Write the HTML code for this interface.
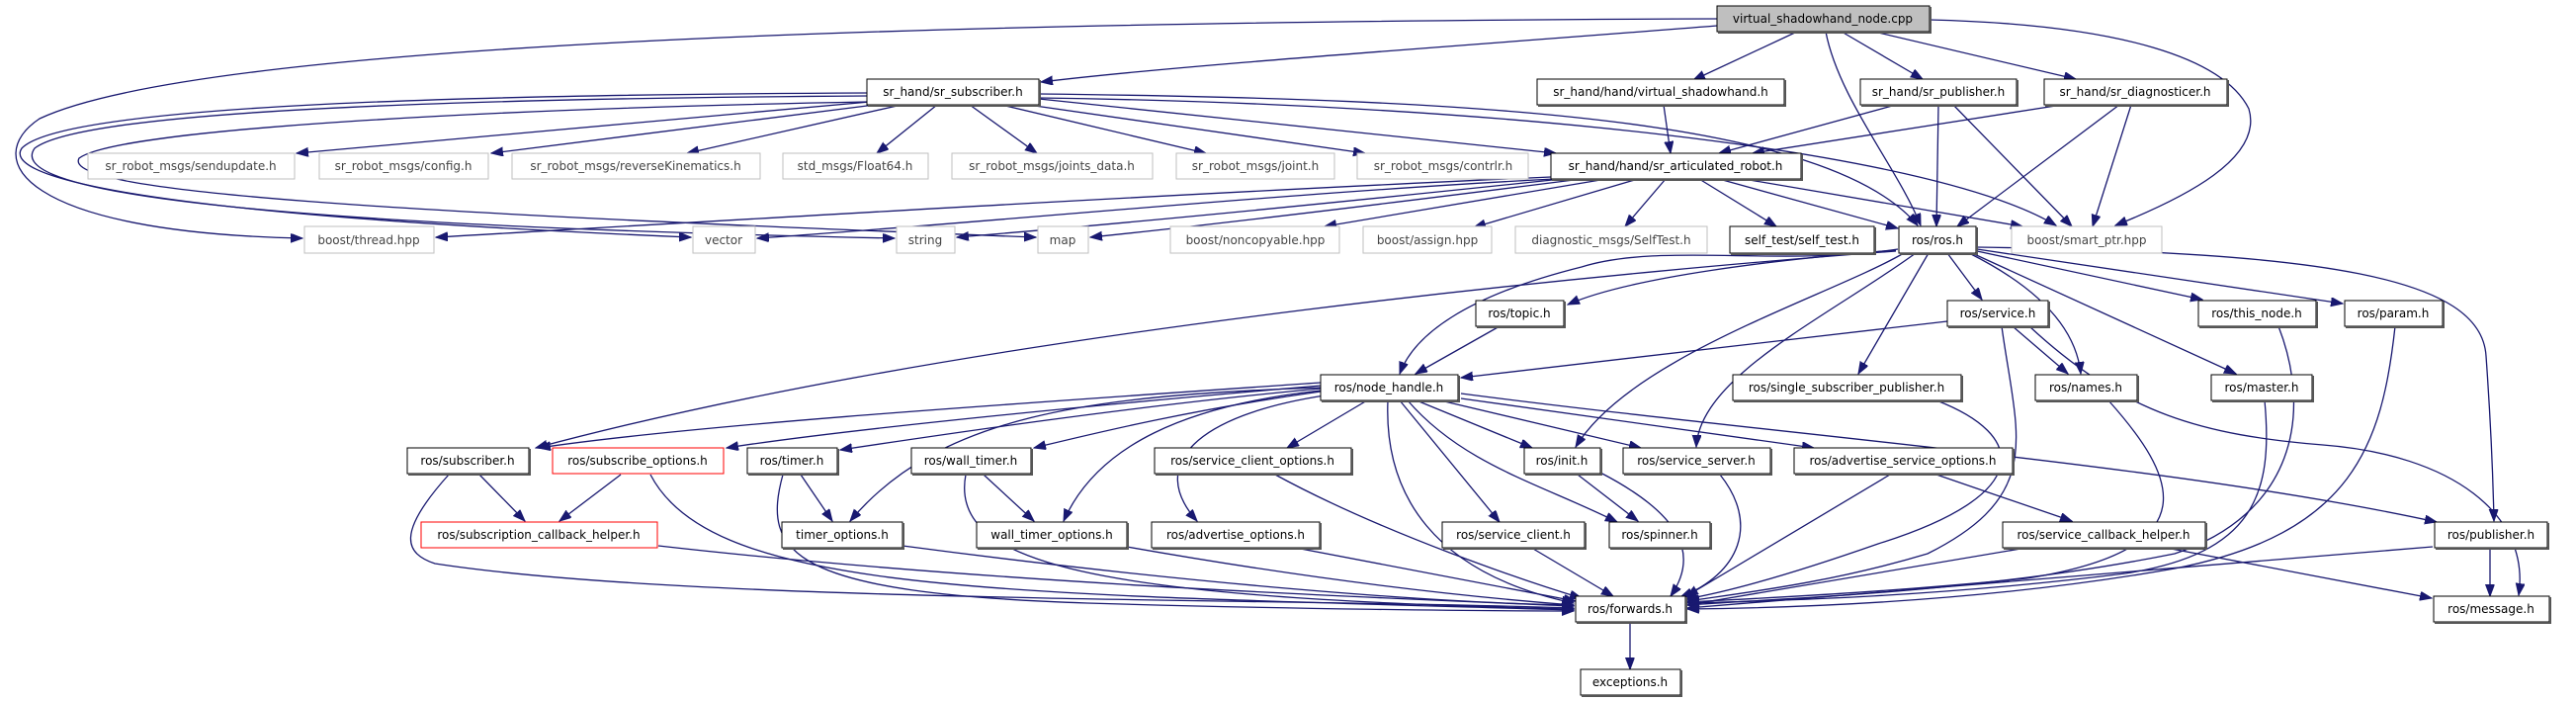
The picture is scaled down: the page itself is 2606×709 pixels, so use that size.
<!DOCTYPE html>
<html><head><meta charset="utf-8"><style>
html,body{margin:0;padding:0;background:#fff;}
svg{display:block;}
text{font-family:"DejaVu Sans","Liberation Sans",sans-serif;font-size:12px;text-anchor:middle;}
.e{fill:none;stroke:#191970;stroke-width:1.3;marker-end:url(#a);}
.b{fill:#fff;stroke:#000;stroke-width:1;}
.s{fill:none;stroke:#555;stroke-width:2;}
.g{fill:#fff;stroke:#bfbfbf;stroke-width:1;}
.r{fill:#fff;stroke:#ff0000;stroke-width:1;}
</style></head><body>
<svg width="2606" height="709" viewBox="0 0 2606 709" xmlns="http://www.w3.org/2000/svg">
<defs><marker id="a" markerUnits="userSpaceOnUse" markerWidth="13" markerHeight="10" refX="12" refY="4.5" orient="auto"><path d="M0,0 L12,4.5 L0,9 z" fill="#191970" stroke="#191970"/></marker></defs>

<!-- edges from top -->
<path class="e" d="M1737,26 C1500,45 1200,65 1053,83"/>
<path class="e" d="M1737,19 C900,22 200,45 40,120 C-20,160 20,235 306,241"/>
<path class="e" d="M1818,32 L1713,81"/>
<path class="e" d="M1847,32 C1860,100 1920,170 1943,228"/>
<path class="e" d="M1863,32 L1945,80"/>
<path class="e" d="M1896,32 L2100,80"/>
<path class="e" d="M1952,20 C2150,25 2250,60 2275,110 C2290,160 2210,200 2140,228"/>

<!-- sr_subscriber -->
<path class="e" d="M880,103 L300,155"/>
<path class="e" d="M885,106 L497,155"/>
<path class="e" d="M912,106 L695,155"/>
<path class="e" d="M948,106 L887,155"/>
<path class="e" d="M981,106 L1049,155"/>
<path class="e" d="M1013,106 L1220,155"/>
<path class="e" d="M1040,106 L1381,155"/>
<path class="e" d="M1051,100 L1574,155"/>
<path class="e" d="M1051,95 C1500,100 1850,120 1940,228"/>
<path class="e" d="M1051,99 C1500,105 1950,150 2080,228"/>
<path class="e" d="M877,94 C400,96 60,110 22,150 C5,175 100,215 699,240"/>
<path class="e" d="M877,97 C400,100 80,115 35,150 C10,185 150,225 905,241"/>
<path class="e" d="M877,103 C500,110 120,130 80,160 C60,195 400,215 1048,240"/>

<!-- vsh / pub / diag -->
<path class="e" d="M1683,106 L1690,155"/>
<path class="e" d="M1918,106 L1739,155"/>
<path class="e" d="M1961,106 L1959,229"/>
<path class="e" d="M1976,106 L2096,229"/>
<path class="e" d="M2086,106 L1773,155"/>
<path class="e" d="M2144,106 L1980,229"/>
<path class="e" d="M2156,106 L2117,229"/>

<!-- articulated robot -->
<path class="e" d="M1569,179 C1200,195 700,225 441,240"/>
<path class="e" d="M1572,181 C1300,195 1000,225 766,241"/>
<path class="e" d="M1580,181 C1400,200 1150,225 968,240"/>
<path class="e" d="M1600,181 C1450,200 1250,225 1103,240"/>
<path class="e" d="M1625,181 L1340,229"/>
<path class="e" d="M1657,181 L1491,230"/>
<path class="e" d="M1685,181 L1644,229"/>
<path class="e" d="M1719,181 L1797,229"/>
<path class="e" d="M1739,181 L1920,231"/>
<path class="e" d="M1764,181 L2046,229"/>

<!-- ros.h -->
<path class="e" d="M1918,253 C1800,262 1650,280 1586,308"/>
<path class="e" d="M1920,252 C1800,270 1680,245 1600,270 C1480,300 1430,340 1416,378"/>
<path class="e" d="M1918,254 C1700,270 1000,330 542,453"/>
<path class="e" d="M1926,256 C1850,300 1650,360 1594,452"/>
<path class="e" d="M1938,256 C1850,320 1720,380 1716,452"/>
<path class="e" d="M1951,256 L1880,378"/>
<path class="e" d="M1970,256 L2005,303"/>
<path class="e" d="M1992,256 C2060,290 2100,330 2105,378"/>
<path class="e" d="M1995,256 L2262,378"/>
<path class="e" d="M2000,254 L2228,303"/>
<path class="e" d="M2000,252 L2370,307"/>
<path class="e" d="M2000,250 C2350,255 2510,280 2515,360 C2520,430 2522,480 2523,527"/>

<!-- R4 -->
<path class="e" d="M1517,330 L1432,378"/>
<path class="e" d="M1970,325 L1478,382"/>
<path class="e" d="M2036,330 L2092,378"/>
<path class="e" d="M2025,330 C2040,440 2070,500 1950,560 C1850,590 1760,600 1707,608"/>
<path class="e" d="M2053,330 C2150,420 2230,440 2350,450 C2480,460 2560,520 2548,602"/>
<path class="e" d="M2305,330 C2340,420 2320,520 2200,560 C2000,600 1800,605 1707,612"/>
<path class="e" d="M2423,330 C2410,450 2380,540 2200,575 C2000,610 1800,615 1707,616"/>

<!-- R5 -->
<path class="e" d="M2291,405 C2300,500 2280,560 2150,580 C1950,605 1780,608 1707,610"/>
<path class="e" d="M2133,405 C2200,480 2240,555 2050,585 C1900,600 1780,605 1707,609"/>
<path class="e" d="M1959,405 C2050,440 2060,500 1900,550 C1800,585 1740,600 1705,606"/>
<path class="e" d="M1433,405 L1550,453"/>
<path class="e" d="M1457,405 L1660,453"/>
<path class="e" d="M1478,403 L1835,453"/>
<path class="e" d="M1478,398 C1800,440 2200,470 2465,528"/>
<path class="e" d="M1416,405 L1517,528"/>
<path class="e" d="M1424,405 C1480,470 1560,490 1636,528"/>
<path class="e" d="M1404,405 C1400,500 1450,580 1592,610"/>
<path class="e" d="M1383,405 L1302,453"/>
<path class="e" d="M1336,387 C1000,410 700,430 545,453"/>
<path class="e" d="M1336,390 C1100,410 850,435 735,453"/>
<path class="e" d="M1336,393 C1150,410 950,440 850,455"/>
<path class="e" d="M1336,396 C1200,415 1100,440 1046,453"/>
<path class="e" d="M1336,392 C1100,400 950,420 860,527"/>
<path class="e" d="M1336,395 C1200,410 1110,450 1076,527"/>
<path class="e" d="M1340,400 C1210,420 1160,470 1211,527"/>

<!-- R6 / R7 -->
<path class="e" d="M485,480 L531,527"/>
<path class="e" d="M454,480 C400,540 410,560 440,570 C700,610 1300,605 1592,615"/>
<path class="e" d="M628,480 L566,527"/>
<path class="e" d="M658,480 C720,600 1000,600 1592,617"/>
<path class="e" d="M666,552 C1000,590 1400,605 1592,613"/>
<path class="e" d="M810,480 L842,527"/>
<path class="e" d="M792,480 C770,560 800,600 1100,610 C1300,616 1500,618 1592,618"/>
<path class="e" d="M913,552 C1200,590 1450,610 1592,612"/>
<path class="e" d="M995,480 L1046,527"/>
<path class="e" d="M977,480 C960,570 1100,605 1592,616"/>
<path class="e" d="M1140,553 C1350,590 1500,605 1592,612"/>
<path class="e" d="M1290,480 C1400,540 1550,590 1600,605"/>
<path class="e" d="M1300,552 C1450,580 1550,600 1594,608"/>
<path class="e" d="M1551,555 L1632,603"/>
<path class="e" d="M1596,480 L1657,527"/>
<path class="e" d="M1619,478 C1700,520 1720,560 1690,603"/>
<path class="e" d="M1740,480 C1780,530 1760,580 1700,604"/>
<path class="e" d="M1959,480 L2096,527"/>
<path class="e" d="M1912,480 L1706,603"/>
<path class="e" d="M2050,554 L1707,612"/>
<path class="e" d="M2191,554 L2460,605"/>
<path class="e" d="M2461,553 L1707,615"/>
<path class="e" d="M2519,554 L2519,603"/>
<path class="e" d="M1649,629 L1649,677"/>

<!-- nodes -->
<g>
<rect x="1737" y="6" width="215" height="26" fill="#bfbfbf" stroke="#000"/><polyline class="s" points="1738,33 1953,33 1953,7"/><text x="1844" y="23">virtual_shadowhand_node.cpp</text>

<rect class="b" x="877" y="80" width="174" height="26"/><polyline class="s" points="878,107 1052,107 1052,81"/><text x="964" y="97">sr_hand/sr_subscriber.h</text>
<rect class="b" x="1555" y="80" width="250" height="26"/><polyline class="s" points="1556,107 1806,107 1806,81"/><text x="1680" y="97">sr_hand/hand/virtual_shadowhand.h</text>
<rect class="b" x="1882" y="80" width="158" height="26"/><polyline class="s" points="1883,107 2041,107 2041,81"/><text x="1961" y="97">sr_hand/sr_publisher.h</text>
<rect class="b" x="2068" y="80" width="185" height="26"/><polyline class="s" points="2069,107 2254,107 2254,81"/><text x="2160" y="97">sr_hand/sr_diagnosticer.h</text>

<rect class="g" x="89" y="155" width="209" height="26"/><text x="193" y="172" fill="#444">sr_robot_msgs/sendupdate.h</text>
<rect class="g" x="323" y="155" width="171" height="26"/><text x="408" y="172" fill="#444">sr_robot_msgs/config.h</text>
<rect class="g" x="518" y="155" width="251" height="26"/><text x="643" y="172" fill="#444">sr_robot_msgs/reverseKinematics.h</text>
<rect class="g" x="792" y="155" width="147" height="26"/><text x="865" y="172" fill="#444">std_msgs/Float64.h</text>
<rect class="g" x="963" y="155" width="203" height="26"/><text x="1064" y="172" fill="#444">sr_robot_msgs/joints_data.h</text>
<rect class="g" x="1190" y="155" width="160" height="26"/><text x="1270" y="172" fill="#444">sr_robot_msgs/joint.h</text>
<rect class="g" x="1373" y="155" width="173" height="26"/><text x="1460" y="172" fill="#444">sr_robot_msgs/contrlr.h</text>
<rect class="b" x="1569" y="155" width="253" height="26"/><polyline class="s" points="1570,182 1823,182 1823,156"/><text x="1695" y="172">sr_hand/hand/sr_articulated_robot.h</text>

<rect class="g" x="308" y="229" width="131" height="27"/><text x="373" y="247" fill="#444">boost/thread.hpp</text>
<rect class="g" x="701" y="229" width="63" height="27"/><text x="732" y="247" fill="#444">vector</text>
<rect class="g" x="907" y="229" width="59" height="27"/><text x="936" y="247" fill="#444">string</text>
<rect class="g" x="1050" y="229" width="51" height="27"/><text x="1075" y="247" fill="#444">map</text>
<rect class="g" x="1184" y="229" width="171" height="27"/><text x="1270" y="247" fill="#444">boost/noncopyable.hpp</text>
<rect class="g" x="1379" y="229" width="130" height="27"/><text x="1444" y="247" fill="#444">boost/assign.hpp</text>
<rect class="g" x="1533" y="229" width="194" height="27"/><text x="1630" y="247" fill="#444">diagnostic_msgs/SelfTest.h</text>
<rect class="b" x="1750" y="229" width="146" height="27"/><polyline class="s" points="1751,257 1897,257 1897,230"/><text x="1823" y="247">self_test/self_test.h</text>
<rect class="b" x="1921" y="229" width="78" height="27"/><polyline class="s" points="1922,257 2000,257 2000,230"/><text x="1960" y="247">ros/ros.h</text>
<rect class="g" x="2035" y="229" width="152" height="27"/><text x="2111" y="247" fill="#444">boost/smart_ptr.hpp</text>

<rect class="b" x="1493" y="304" width="89" height="26"/><polyline class="s" points="1494,331 1583,331 1583,305"/><text x="1537" y="321">ros/topic.h</text>
<rect class="b" x="1970" y="304" width="102" height="26"/><polyline class="s" points="1971,331 2073,331 2073,305"/><text x="2021" y="321">ros/service.h</text>
<rect class="b" x="2224" y="304" width="119" height="26"/><polyline class="s" points="2225,331 2344,331 2344,305"/><text x="2283" y="321">ros/this_node.h</text>
<rect class="b" x="2372" y="304" width="99" height="26"/><polyline class="s" points="2373,331 2472,331 2472,305"/><text x="2421" y="321">ros/param.h</text>

<rect class="b" x="1336" y="379" width="139" height="26"/><polyline class="s" points="1337,406 1476,406 1476,380"/><text x="1405" y="396">ros/node_handle.h</text>
<rect class="b" x="1753" y="379" width="231" height="26"/><polyline class="s" points="1754,406 1985,406 1985,380"/><text x="1868" y="396">ros/single_subscriber_publisher.h</text>
<rect class="b" x="2059" y="379" width="103" height="26"/><polyline class="s" points="2060,406 2163,406 2163,380"/><text x="2110" y="396">ros/names.h</text>
<rect class="b" x="2237" y="379" width="102" height="26"/><polyline class="s" points="2238,406 2340,406 2340,380"/><text x="2288" y="396">ros/master.h</text>

<rect class="b" x="412" y="453" width="123" height="26"/><polyline class="s" points="413,480 536,480 536,454"/><text x="473" y="470">ros/subscriber.h</text>
<rect class="r" x="559" y="453" width="173" height="26"/><text x="645" y="470">ros/subscribe_options.h</text>
<rect class="b" x="756" y="453" width="91" height="26"/><polyline class="s" points="757,480 848,480 848,454"/><text x="801" y="470">ros/timer.h</text>
<rect class="b" x="922" y="453" width="121" height="26"/><polyline class="s" points="923,480 1044,480 1044,454"/><text x="982" y="470">ros/wall_timer.h</text>
<rect class="b" x="1168" y="453" width="199" height="26"/><polyline class="s" points="1169,480 1368,480 1368,454"/><text x="1267" y="470">ros/service_client_options.h</text>
<rect class="b" x="1542" y="453" width="77" height="26"/><polyline class="s" points="1543,480 1620,480 1620,454"/><text x="1580" y="470">ros/init.h</text>
<rect class="b" x="1642" y="453" width="149" height="26"/><polyline class="s" points="1643,480 1792,480 1792,454"/><text x="1716" y="470">ros/service_server.h</text>
<rect class="b" x="1815" y="453" width="221" height="26"/><polyline class="s" points="1816,480 2037,480 2037,454"/><text x="1925" y="470">ros/advertise_service_options.h</text>

<rect class="r" x="426" y="528" width="239" height="26"/><text x="545" y="545">ros/subscription_callback_helper.h</text>
<rect class="b" x="791" y="528" width="122" height="26"/><polyline class="s" points="792,555 914,555 914,529"/><text x="852" y="545">timer_options.h</text>
<rect class="b" x="988" y="528" width="152" height="26"/><polyline class="s" points="989,555 1141,555 1141,529"/><text x="1064" y="545">wall_timer_options.h</text>
<rect class="b" x="1165" y="528" width="170" height="26"/><polyline class="s" points="1166,555 1336,555 1336,529"/><text x="1250" y="545">ros/advertise_options.h</text>
<rect class="b" x="1459" y="528" width="144" height="26"/><polyline class="s" points="1460,555 1604,555 1604,529"/><text x="1531" y="545">ros/service_client.h</text>
<rect class="b" x="1628" y="528" width="102" height="26"/><polyline class="s" points="1629,555 1731,555 1731,529"/><text x="1679" y="545">ros/spinner.h</text>
<rect class="b" x="2026" y="528" width="205" height="26"/><polyline class="s" points="2027,555 2232,555 2232,529"/><text x="2128" y="545">ros/service_callback_helper.h</text>
<rect class="b" x="2463" y="528" width="114" height="26"/><polyline class="s" points="2464,555 2578,555 2578,529"/><text x="2520" y="545">ros/publisher.h</text>

<rect class="b" x="1594" y="603" width="111" height="26"/><polyline class="s" points="1595,630 1706,630 1706,604"/><text x="1649" y="620">ros/forwards.h</text>
<rect class="b" x="2462" y="603" width="117" height="26"/><polyline class="s" points="2463,630 2580,630 2580,604"/><text x="2520" y="620">ros/message.h</text>

<rect class="b" x="1599" y="677" width="101" height="26"/><polyline class="s" points="1600,704 1701,704 1701,678"/><text x="1649" y="694">exceptions.h</text>
</g>
</svg>
</body></html>
